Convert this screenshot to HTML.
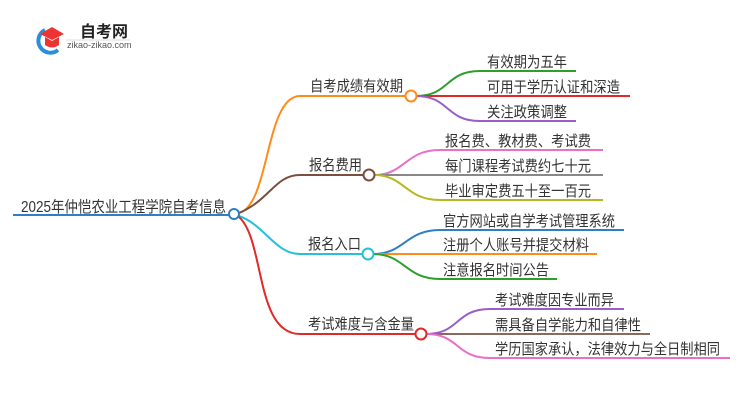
<!DOCTYPE html>
<html><head><meta charset="utf-8"><style>
body{margin:0;background:#fff;}
svg text{font-family:"Liberation Sans","Noto Sans CJK SC",sans-serif;fill:#333;}
</style></head><body>
<svg width="750" height="410" xmlns="http://www.w3.org/2000/svg">
<path d="M45 30 A12 12 0 1 0 58 50" fill="none" stroke="#2a8fd8" stroke-width="4"/>
<polygon points="40,34 52,27 64,34 52,40" fill="#e33"/>
<path d="M45 37 L45 45 Q52 50 59 45 L59 37 L52 41 Z" fill="#e33"/>
<text x="80" y="37" font-size="16" font-weight="bold" style="fill:#222">自考网</text>
<line x1="66" y1="40" x2="130" y2="40" stroke="#ddd"/>
<text x="67" y="48" font-size="9" style="fill:#555">zikao-zikao.com</text>

<g fill="none" stroke-width="2">
<line x1="13" y1="215" x2="229" y2="215" stroke="#2f7fc1"/>
<path d="M239 213 C270 205 265 96 300 96 L406 96" stroke="#ff8c1a"/>
<path d="M239 213 C270 200 275 175 300 175 L364 175" stroke="#7b4f3f"/>
<path d="M239 216 C265 225 275 254 300 254 L363 254" stroke="#26c0d8"/>
<path d="M239 217 C265 240 255 334 300 334 L416 334" stroke="#e02a2a"/>
<path d="M416 96 C450 96 445 71 480 71 L576 71" stroke="#2ca02c"/>
<path d="M416 96 L630 96" stroke="#e02a2a"/>
<path d="M416 96 C450 96 445 121 480 121 L576 121" stroke="#9a5fc7"/>
<path d="M374 175 C405 175 405 150 440 150 L603 150" stroke="#e86fcc"/>
<path d="M374 175 L603 175" stroke="#888"/>
<path d="M374 175 C405 175 405 200 440 200 L603 200" stroke="#b8b822"/>
<path d="M373 254 C405 254 405 230 440 230 L624 230" stroke="#2f7fc1"/>
<path d="M373 254 L597 254" stroke="#ff8c1a"/>
<path d="M373 254 C405 254 405 279 440 279 L557 279" stroke="#2ca02c"/>
<path d="M426 334 C460 334 455 309 490 309 L624 309" stroke="#9a5fc7"/>
<path d="M426 334 L650 334" stroke="#8b6a5e"/>
<path d="M426 334 C460 334 455 358 490 358 L730 358" stroke="#e86fcc"/>
</g>
<g stroke-width="2" fill="#fff">
<circle cx="234" cy="214" r="5" stroke="#2f7fc1"/>
<circle cx="411" cy="96" r="5.5" stroke="#ff8c1a"/>
<circle cx="369" cy="175" r="5.5" stroke="#7b4f3f"/>
<circle cx="368" cy="254" r="5.5" stroke="#26c0d8"/>
<circle cx="421" cy="334" r="5.5" stroke="#e02a2a"/>
</g>
<g font-size="15">
<text x="21" y="212" font-size="15.5" textLength="205" lengthAdjust="spacingAndGlyphs">2025年仲恺农业工程学院自考信息</text>
<text x="310" y="91" textLength="93" lengthAdjust="spacingAndGlyphs">自考成绩有效期</text>
<text x="309" y="170" textLength="53" lengthAdjust="spacingAndGlyphs">报名费用</text>
<text x="308" y="249" textLength="53" lengthAdjust="spacingAndGlyphs">报名入口</text>
<text x="308" y="329" textLength="106" lengthAdjust="spacingAndGlyphs">考试难度与含金量</text>
<text x="487" y="67" textLength="80" lengthAdjust="spacingAndGlyphs">有效期为五年</text>
<text x="487" y="92" textLength="133" lengthAdjust="spacingAndGlyphs">可用于学历认证和深造</text>
<text x="487" y="117" textLength="80" lengthAdjust="spacingAndGlyphs">关注政策调整</text>
<text x="445" y="146" textLength="146" lengthAdjust="spacingAndGlyphs">报名费、教材费、考试费</text>
<text x="445" y="171" textLength="146" lengthAdjust="spacingAndGlyphs">每门课程考试费约七十元</text>
<text x="445" y="196" textLength="146" lengthAdjust="spacingAndGlyphs">毕业审定费五十至一百元</text>
<text x="443" y="226" textLength="172" lengthAdjust="spacingAndGlyphs">官方网站或自学考试管理系统</text>
<text x="443" y="250" textLength="146" lengthAdjust="spacingAndGlyphs">注册个人账号并提交材料</text>
<text x="443" y="275" textLength="106" lengthAdjust="spacingAndGlyphs">注意报名时间公告</text>
<text x="495" y="305" textLength="119" lengthAdjust="spacingAndGlyphs">考试难度因专业而异</text>
<text x="495" y="330" textLength="146" lengthAdjust="spacingAndGlyphs">需具备自学能力和自律性</text>
<text x="495" y="354" textLength="225" lengthAdjust="spacingAndGlyphs">学历国家承认，法律效力与全日制相同</text>
</g>
</svg>
</body></html>
